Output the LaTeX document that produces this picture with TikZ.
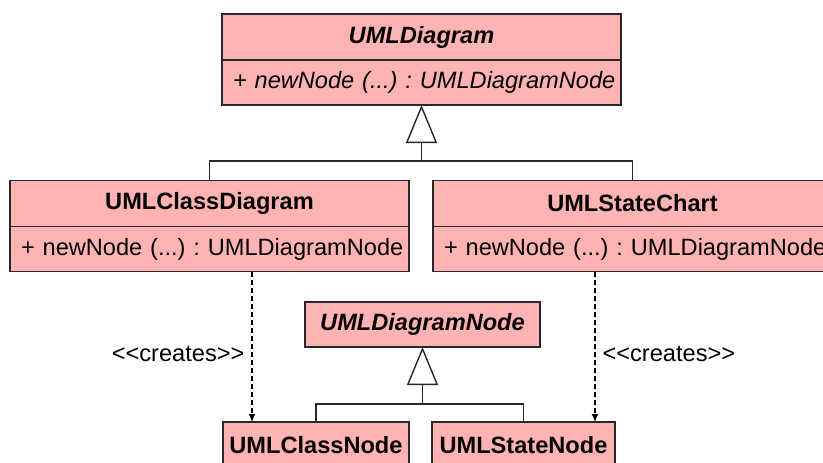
\documentclass[tikz,border=0pt]{standalone}
\usepackage{fontspec}
\setmainfont{Liberation Sans}
\usetikzlibrary{arrows.meta,positioning}
\definecolor{umlpink}{RGB}{255,179,179}
\definecolor{umlline}{RGB}{40,40,40}
\frenchspacing

\begin{document}
\begin{tikzpicture}[
    x=0.5pt, y=-0.5pt,
    every node/.style={font=\fontsize{11.8pt}{14pt}\selectfont},
    title/.style={draw=umlline, fill=umlpink, line width=0.7pt, outer sep=0pt, inner sep=0pt, minimum width=199.5pt, minimum height=23pt, font=\fontsize{11.8pt}{14pt}\selectfont\bfseries},
    method/.style={draw=umlline, fill=umlpink, line width=0.7pt, outer sep=0pt, inner xsep=5.5pt, inner ysep=0pt, text width=188.5pt, minimum height=22.5pt, align=left},
    gen/.style={-{Triangle[open, length=19pt, width=15.5pt]}, line width=0.7pt, draw=umlline},
    link/.style={line width=0.7pt, draw=umlline},
    dep/.style={-{Latex[length=4pt, width=3.5pt]}, dash pattern=on 2.5pt off 1.5pt, line width=0.6pt},
    lbl/.style={font=\fontsize{11.8pt}{14pt}\selectfont, inner sep=3.5pt}
]
\clip (0,0) rectangle (823,462);

% abstract diagram
\node[title, font=\fontsize{11.8pt}{14pt}\selectfont\bfseries\itshape] (diag) at (421.5, 37) {UMLDiagram};
\node[method, below=0pt of diag, font=\fontsize{11.8pt}{14pt}\selectfont\itshape] (diagm) {\mbox{+ newNode (...) : UMLDiagramNode}};

% concrete diagrams
\node[title] (cdiag) at (209.5, 203.5) {UMLClassDiagram};
\node[method, below=0pt of cdiag] (cdiagm) {\mbox{+ newNode (...) : UMLDiagramNode}};

\node[title] (schart) at (632.5, 203.5) {UMLStateChart};
\node[method, below=0pt of schart] (schartm) {\mbox{+ newNode (...) : UMLDiagramNode}};

% nodes
\node[title, minimum width=117.5pt, minimum height=22.5pt, font=\fontsize{11.8pt}{14pt}\selectfont\bfseries\itshape] (dnode) at (422.5, 324.5) {UMLDiagramNode};
\node[title, minimum width=93pt] (cnode) at (316, 445) {UMLClassNode};
\node[title, minimum width=91.5pt] (snode) at (523.5, 445) {UMLStateNode};

% inheritance
\coordinate (j1) at (421.5, 161);
\draw[link] (cdiag.north) |- (j1) -| (schart.north);
\draw[gen] (j1) -- (diagm.south);

\coordinate (j2) at (422.5, 404);
\draw[link] (cnode.north) |- (j2) -| (snode.north);
\draw[gen] (j2) -- (dnode.south);

% creates
\draw[dep] ([xshift=21.25pt]cdiagm.south) -- node[lbl, left, pos=0.55] {<{}<creates>{}>} ([xshift=-32pt]cnode.north);
\draw[dep] ([xshift=-18.75pt]schartm.south) -- node[lbl, right, pos=0.55] {<{}<creates>{}>} ([xshift=35.75pt]snode.north);

\end{tikzpicture}
\end{document}
